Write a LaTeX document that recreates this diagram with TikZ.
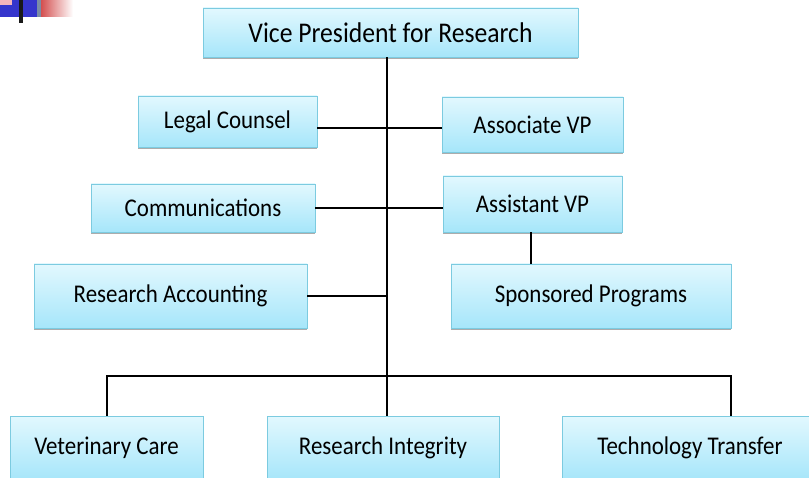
\documentclass[tikz,border=0pt]{standalone}
\usepackage{fontspec}
\setmainfont[FakeStretch=0.9]{Carlito}
\usetikzlibrary{shadows}
\definecolor{boxtop}{HTML}{E2F8FE}
\definecolor{boxbot}{HTML}{A6E6FA}
\definecolor{boxline}{HTML}{7CCBE0}
\definecolor{logoblue}{HTML}{3535CC}
\definecolor{logopink}{HTML}{F4B4BC}
\definecolor{logored}{HTML}{D45050}
\definecolor{logoteal}{HTML}{7A8CA6}
\tikzset{
  orgbox/.style={draw=boxline, line width=0.8pt, top color=boxtop, bottom color=boxbot,
    inner sep=0pt, font=\fontsize{25.5}{28}\selectfont, text=black,
    drop shadow={shadow xshift=0pt, shadow yshift=-2.5pt, fill=gray!65, opacity=1}},
  bigbox/.style={orgbox, font=\fontsize{28.5}{32}\selectfont},
  link/.style={draw=black, line width=2pt},
  spinelink/.style={draw=black, line width=2.6pt},
}
\begin{document}
\begin{tikzpicture}[x=1pt, y=-1pt]
\useasboundingbox (0,0) rectangle (809,478);
\begin{scope}
\clip (0,0) rectangle (809,478);
% logo fragment
\fill[logoblue] (0,0) rectangle (37,17);
\fill[logopink] (0,0) rectangle (12,5);
\fill[logoteal] (37,0) rectangle (41,17);
\shade[left color=logored, right color=white] (41,0) rectangle (73,17);
\fill[black!90] (19,0) rectangle (23,23);

% boxes
\node[bigbox, minimum width=375pt, minimum height=49pt] (vp) at (390.5,32.5) {Vice President for Research};
\node[orgbox, minimum width=179pt, minimum height=51pt] (legal) at (227.5,121.5) {Legal Counsel};
\node[orgbox, minimum width=181pt, minimum height=55pt] (assoc) at (532.5,124.5) {Associate VP};
\node[orgbox, minimum width=224pt, minimum height=48pt] (comm) at (203,208) {Communications};
\node[orgbox, minimum width=179pt, minimum height=56pt] (asst) at (532.5,204) {Assistant VP};
\node[orgbox, minimum width=273pt, minimum height=64pt] (racc) at (170.5,296) {Research Accounting};
\node[orgbox, minimum width=280pt, minimum height=64pt] (spons) at (591,296) {Sponsored Programs};
\node[orgbox, minimum width=193pt, minimum height=64pt] (vet) at (106.5,448) {Veterinary Care};
\node[orgbox, minimum width=232pt, minimum height=64pt] (integ) at (383,448) {Research Integrity};
\node[orgbox, minimum width=256pt, minimum height=64pt] (tech) at (690,448) {Technology Transfer};

% connector helper points
\coordinate (spine) at (387,0);
\coordinate (j1) at (387,128);
\coordinate (bus) at (387,376);
\coordinate (sp) at (531,0);
\coordinate (tb) at (731,376);

% connectors
\draw[link] (legal.east |- j1) -- (assoc.west |- j1);
\draw[link] (comm.east) -- (asst.west |- comm.east);
\draw[link] (racc.east) -- (racc.east -| spine);
\draw[link] (asst.south -| sp) -- (spons.north -| sp);
\draw[link] (vet.north) -- (vet.north |- bus) -- (tb) -- (tech.north -| tb);
\draw[link] (bus) -- (integ.north -| spine);
\draw[spinelink] (vp.south -| spine) -- (bus);
\end{scope}
\end{tikzpicture}
\end{document}
